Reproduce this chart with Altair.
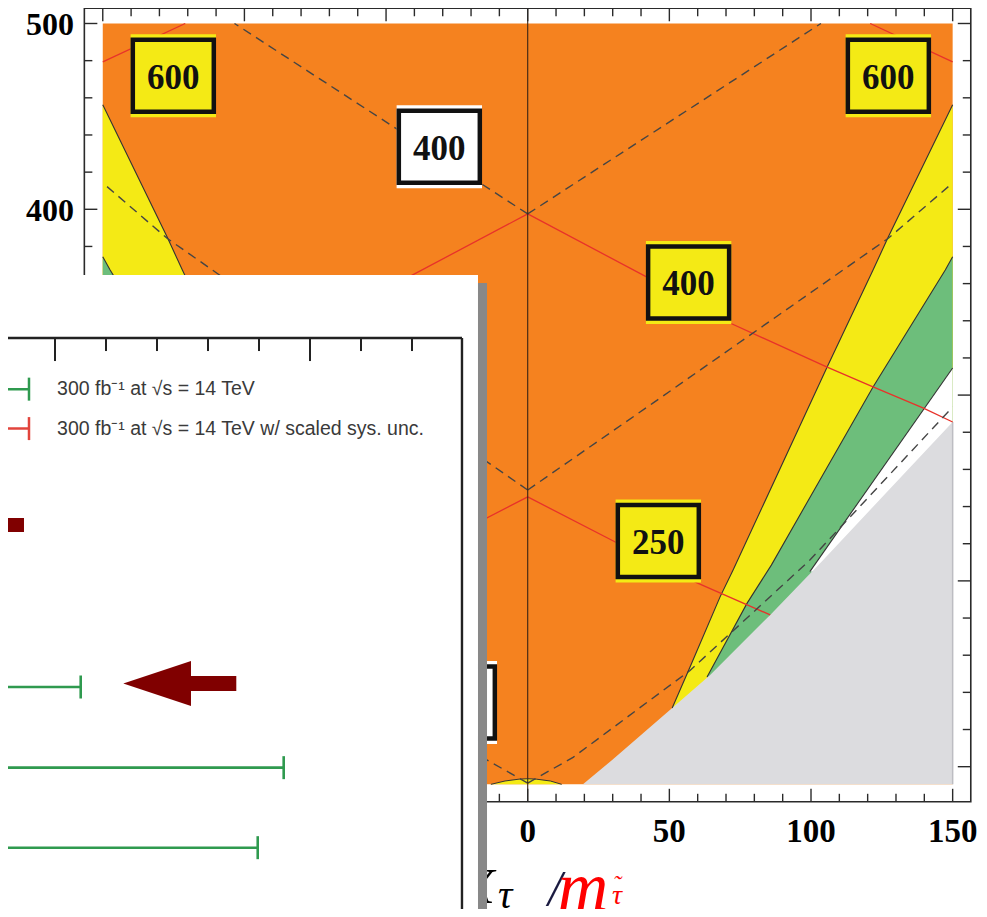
import altair as alt
import pandas as pd

# ---------------- colours ----------------
ORANGE = "#F5821F"
YELLOW = "#F4EA15"
GREEN = "#6DBE7B"
GRAY = "#DCDCDF"
LINE = "#333333"
RED = "#E8322A"
DASH = "#454545"

# ---------------- main panel (data units) ----------------
X_DOM = [-183.45, 159.3]
Y_DOM = [23.4, 508.34]
FILL_X = 150
FILL_Y = [90.5, 500]
FRAME_X = [-156.5, 156.4]
FRAME_Y = [81.1, 508.2]

# region boundaries (right half; the figure is mirror-symmetric in x)
oy_x = [51.0, 57.3, 67.9, 72.5, 105.7, 121.9, 127.1, 150.0]
oy_y = [131.6, 153.7, 191.4, 205.9, 315.1, 367.3, 384.5, 456.3]
yg_x = [63.3, 77.4, 86.0, 121.9, 147.4, 150.0]
yg_y = [148.3, 187.9, 208.5, 304.4, 367.3, 374.5]
gw_x = [99.6, 150.0]
gw_y = [205.0, 314.6]
gray_x = [19.5, 29.8, 51.0, 64.4, 85.6, 104.3, 150.0]
gray_y = [90.5, 103.6, 131.6, 149.4, 181.7, 211.3, 285.5]

dome_x = [-13, -8, -3, 0, 3, 8, 12]
dome_y = [90.5, 92.3, 93.3, 93.5, 93.3, 92.3, 90.5]

red_a_x = [0, 42.1, 71.4, 105.7, 121.9, 139.5, 150]
red_a_y = [397.5, 363.5, 338.8, 315.1, 304.4, 293.1, 285.5]
red_b_x = [120.9, 150]
red_b_y = [500, 479.3]
red_c_x = [0, 31.6, 59.8, 85.6]
red_c_y = [245.2, 220.4, 198.9, 181.7]

dash_1_x = [0, 103.5]
dash_1_y = [397.5, 500]
dash_2_x = [0, 44.3, 127.3, 150]
dash_2_y = [248.9, 295.8, 384.4, 414.2]
dash_3_x = [0, 16.0, 57.3, 99.6, 150]
dash_3_y = [91.2, 105.0, 151.8, 211.2, 293.6]

box_text = ["600", "400", "600", "400", "250", ""]
box_cx = [-125.1, -31.2, 127.3, 56.8, 46.1, -25.9]
box_cy = [471.9, 433.7, 471.9, 360.6, 221.5, 134.6]
box_fill = [YELLOW, "#FFFFFF", YELLOW, YELLOW, YELLOW, "#FFFFFF"]

x_ticks = list(range(-150, 151, 10))
y_ticks = list(range(100, 501, 20))
x_labels = [0, 50, 100, 150]
y_labels = [400, 500]

title_text = ["X", "τ", "/", "m", "τ", "˜"]
title_x = [-17.0, -8.0, 9.6, 19.5, 31.5, 31.5]
title_y = [34.5, 30.5, 33.6, 34.0, 30.2, 36.5]
title_color = ["#000000", "#000000", "#1a1a40", "#FF0000", "#FF0000", "#FF0000"]
title_size = [50, 40, 50, 70, 28, 24]

# ---------------- overlay panel (its own units) ----------------
U_DOM = [-0.09216, 1.81176]
V_DOM = [-7.4348, 3.7578]
ov_bg_u = [-0.3, 0.8294]
ov_bg_v = [-4.118, 4.2]
ov_sh_u = [0.8294, 0.8471]
ov_sh_v = [-4.019, 4.2]
ov_frame_u = 0.798
ov_frame_v = -3.335
ov_ticks = [-0.1, 0.0, 0.1, 0.2, 0.3, 0.4, 0.5, 0.6, 0.7]
ov_major = [0.0, 0.5]

GREEN_BAR = "#2F9A4F"
RED_BAR = "#E2443C"
DARKRED = "#800000"
leg_v = [-2.70, -2.21]
leg_col = [GREEN_BAR, RED_BAR]
leg_text = ["300 fb⁻¹ at √s = 14 TeV", "300 fb⁻¹ at √s = 14 TeV w/ scaled sys. unc."]
leg_cap_u = -0.051
leg_text_u = 0.004

bar_v = [1.0, 2.002, 2.996]
bar_hi = [0.0504, 0.4484, 0.3975]
bar_lo = [-0.5, -0.5, -0.5]

block_u = [-0.3, -0.0608]
block_v = [-1.099, -0.925]
arrow_u = [0.2447]
arrow_v = [0.9565]
ARROW = "M-1,0L0.198,-0.398L0.198,-0.133L1,-0.133L1,0.133L0.198,0.133L0.198,0.398Z"

W, H = 971, 901
KX = W / (X_DOM[1] - X_DOM[0])
KY = H / (Y_DOM[1] - Y_DOM[0])
KV = H / (V_DOM[1] - V_DOM[0])

xs = alt.Scale(domain=X_DOM, nice=False, zero=False)
ys = alt.Scale(domain=Y_DOM, nice=False, zero=False)
us = alt.Scale(domain=U_DOM, nice=False, zero=False)
vs = alt.Scale(domain=V_DOM, nice=False, zero=False, reverse=True)


def ex(f):
    return alt.X(f"{f}:Q", scale=xs, axis=None)


def ey(f):
    return alt.Y(f"{f}:Q", scale=ys, axis=None)


def eu(f):
    return alt.X(f"{f}:Q", scale=us, axis=None)


def ev(f):
    return alt.Y(f"{f}:Q", scale=vs, axis=None)


def band_df(bx, by, tag):
    rows = []
    for side in (1, -1):
        for i, (x, y) in enumerate(zip(bx, by)):
            rows.append(dict(id=f"{tag}{side}", i=i, x=side * x, x2=side * FILL_X, y=y))
    return pd.DataFrame(rows)


def mirror_lines(pairs, tag):
    rows = []
    for k, (lx, ly) in enumerate(pairs):
        for side in (1, -1):
            for i, (x, y) in enumerate(zip(lx, ly)):
                rows.append(dict(id=f"{tag}{k}_{side}", i=i, x=side * x, y=y))
    return pd.DataFrame(rows)


def area(df, color):
    return alt.Chart(df).mark_area(orient="horizontal", color=color, clip=True).encode(
        y=ey("y"), x=ex("x"), x2=alt.X2("x2"), detail="id:N"
    )


def lines(df, color, width, dash=None):
    kw = dict(color=color, strokeWidth=width, clip=True)
    if dash:
        kw["strokeDash"] = dash
    return alt.Chart(df).mark_line(**kw).encode(
        x=ex("x"), y=ey("y"), detail="id:N", order="i:Q"
    )


main = []
main.append(alt.Chart(pd.DataFrame({"x": [-FILL_X], "x2": [FILL_X], "y": [FILL_Y[0]], "y2": [FILL_Y[1]]}))
            .mark_rect(color=ORANGE).encode(x=ex("x"), x2="x2", y=ey("y"), y2="y2"))
main.append(area(band_df(oy_x, oy_y, "oy"), YELLOW))
main.append(area(band_df(yg_x, yg_y, "yg"), GREEN))
main.append(area(band_df(gw_x, gw_y, "gw"), "#FFFFFF"))
main.append(area(band_df(gray_x, gray_y, "gr"), GRAY))
dome = pd.DataFrame({"x": dome_x, "y": dome_y, "y2": FILL_Y[0], "i": range(len(dome_x)), "id": "d"})
main.append(alt.Chart(dome).mark_area(color=YELLOW).encode(x=ex("x"), y=ey("y"), y2="y2"))
main.append(lines(dome, LINE, 1))
main.append(lines(mirror_lines([(oy_x, oy_y), (yg_x, yg_y), (gw_x, gw_y)], "c"), LINE, 1.1))
edge = pd.DataFrame({"x": [FILL_X, FILL_X], "y": [FILL_Y[0], gray_y[-1]], "i": [0, 1], "id": "e"})
main.append(lines(edge, "#BDBDC2", 1.5))
main.append(lines(mirror_lines([(red_a_x, red_a_y), (red_b_x, red_b_y), (red_c_x, red_c_y)], "r"), RED, 1.3))
main.append(lines(mirror_lines([(dash_1_x, dash_1_y), (dash_2_x, dash_2_y), (dash_3_x, dash_3_y)], "k"),
                  DASH, 1.4, [9, 6]))
vline = pd.DataFrame({"x": [0, 0], "y": FRAME_Y, "i": [0, 1], "id": "v"})
main.append(lines(vline, "#3a2415", 1.1))

boxes = pd.DataFrame({"t": box_text, "cx": box_cx, "cy": box_cy, "f": box_fill})
hw_box, hh_box = 40.5 / KX, 36 / KY
hw_strip, hh_strip = 42.7 / KX, 41.5 / KY
boxes["sx"] = boxes.cx - hw_strip
boxes["sx2"] = boxes.cx + hw_strip
boxes["sy"] = boxes.cy - hh_strip
boxes["sy2"] = boxes.cy + hh_strip
boxes["bx"] = boxes.cx - hw_box
boxes["bx2"] = boxes.cx + hw_box
boxes["by"] = boxes.cy - hh_box
boxes["by2"] = boxes.cy + hh_box
main.append(alt.Chart(boxes).mark_rect().encode(
    x=ex("sx"), x2="sx2", y=ey("sy"), y2="sy2", color=alt.Color("f:N", scale=None)))
main.append(alt.Chart(boxes).mark_rect(stroke="#111111", strokeWidth=4.5).encode(
    x=ex("bx"), x2="bx2", y=ey("by"), y2="by2", color=alt.Color("f:N", scale=None)))
main.append(alt.Chart(boxes[boxes.t != ""]).mark_text(font="Liberation Serif", fontWeight="bold", fontSize=35,
                                                      color="#111111", baseline="middle", dy=2).encode(
    x=ex("cx"), y=ey("cy"), text="t:N"))

# frame and ticks
frame = pd.DataFrame({"x": [FRAME_X[0]], "x2": [FRAME_X[1]], "y": [FRAME_Y[0]], "y2": [FRAME_Y[1]]})
main.append(alt.Chart(frame).mark_rect(fillOpacity=0, stroke="#2a2a2a", strokeWidth=1.6).encode(
    x=ex("x"), x2="x2", y=ey("y"), y2="y2"))
tx = pd.DataFrame({"x": x_ticks})
tx["L"] = [(13 if v % 50 == 0 else 8) / KY for v in x_ticks]
tx["b"] = FRAME_Y[0]
tx["b2"] = FRAME_Y[0] + tx.L
tx["t"] = FRAME_Y[1]
tx["t2"] = FRAME_Y[1] - tx.L
main.append(alt.Chart(tx).mark_rule(color="#2a2a2a", strokeWidth=1.4).encode(x=ex("x"), y=ey("b"), y2="b2"))
main.append(alt.Chart(tx).mark_rule(color="#2a2a2a", strokeWidth=1.4).encode(x=ex("x"), y=ey("t"), y2="t2"))
ty = pd.DataFrame({"y": y_ticks})
ty["L"] = [(13 if v % 100 == 0 else 8) / KX for v in y_ticks]
ty["l"] = FRAME_X[0]
ty["l2"] = FRAME_X[0] + ty.L
ty["r"] = FRAME_X[1]
ty["r2"] = FRAME_X[1] - ty.L
main.append(alt.Chart(ty).mark_rule(color="#2a2a2a", strokeWidth=1.4).encode(y=ey("y"), x=ex("l"), x2="l2"))
main.append(alt.Chart(ty).mark_rule(color="#2a2a2a", strokeWidth=1.4).encode(y=ey("y"), x=ex("r"), x2="r2"))

xl = pd.DataFrame({"v": x_labels, "y": FRAME_Y[0] - 16.5})
main.append(alt.Chart(xl).mark_text(font="Liberation Serif", fontWeight="bold", fontSize=33,
                                    baseline="middle", color="#000000").encode(
    x=ex("v"), y=ey("y"), text="v:Q"))
yl = pd.DataFrame({"v": y_labels, "x": FRAME_X[0] - 10.3 / KX})
main.append(alt.Chart(yl).mark_text(font="Liberation Serif", fontWeight="bold", fontSize=32,
                                    baseline="middle", align="right", color="#000000", dy=2).encode(
    x=ex("x"), y=ey("v"), text="v:Q"))

title = pd.DataFrame({"t": title_text, "x": title_x, "y": title_y, "c": title_color, "s": title_size})
main.append(alt.Chart(title).mark_text(font="Liberation Serif", fontStyle="italic",
                                       baseline="middle").encode(
    x=ex("x"), y=ey("y"), text="t:N", color=alt.Color("c:N", scale=None), size=alt.Size("s:Q", scale=None)))

main_chart = alt.layer(*main)

# ---------------- overlay ----------------
ov = []
ov.append(alt.Chart(pd.DataFrame({"u": [ov_bg_u[0]], "u2": [ov_bg_u[1]], "v": [ov_bg_v[0]], "v2": [ov_bg_v[1]]}))
          .mark_rect(color="#FFFFFF", clip=True).encode(x=eu("u"), x2="u2", y=ev("v"), y2="v2"))
ov.append(alt.Chart(pd.DataFrame({"u": [ov_sh_u[0]], "u2": [ov_sh_u[1]], "v": [ov_sh_v[0]], "v2": [ov_sh_v[1]]}))
          .mark_rect(color="#888888", clip=True).encode(x=eu("u"), x2="u2", y=ev("v"), y2="v2"))
ov.append(alt.Chart(pd.DataFrame({"u": [ov_bg_u[0]], "u2": [ov_frame_u], "v": [ov_frame_v]}))
          .mark_rule(color="#222222", strokeWidth=2.4, clip=True).encode(x=eu("u"), x2="u2", y=ev("v")))
ov.append(alt.Chart(pd.DataFrame({"u": [ov_frame_u], "v": [ov_frame_v], "v2": [ov_bg_v[1]]}))
          .mark_rule(color="#222222", strokeWidth=2.4, clip=True).encode(x=eu("u"), y=ev("v"), y2="v2"))
otk = pd.DataFrame({"u": ov_ticks})
otk["v"] = ov_frame_v
otk["v2"] = [ov_frame_v + (23 if t in ov_major else 13) / KV for t in ov_ticks]
ov.append(alt.Chart(otk).mark_rule(color="#222222", strokeWidth=2, clip=True).encode(
    x=eu("u"), y=ev("v"), y2="v2"))

leg = pd.DataFrame({"v": leg_v, "c": leg_col, "t": leg_text})
leg["lo"] = ov_bg_u[0]
leg["cap"] = leg_cap_u
leg["tu"] = leg_text_u
leg["c1"] = leg.v - 11.5 / KV
leg["c2"] = leg.v + 11.5 / KV
ov.append(alt.Chart(leg).mark_rule(strokeWidth=2.5, clip=True).encode(
    x=eu("lo"), x2="cap", y=ev("v"), color=alt.Color("c:N", scale=None)))
ov.append(alt.Chart(leg).mark_rule(strokeWidth=2.5, clip=True).encode(
    x=eu("cap"), y=ev("c1"), y2="c2", color=alt.Color("c:N", scale=None)))
ov.append(alt.Chart(leg).mark_text(font="Liberation Sans", fontSize=19.5, align="left", baseline="middle",
                                   color="#3a3a3a").encode(x=eu("tu"), y=ev("v"), text="t:N"))

ov.append(alt.Chart(pd.DataFrame({"u": [block_u[0]], "u2": [block_u[1]], "v": [block_v[0]], "v2": [block_v[1]]}))
          .mark_rect(color=DARKRED, clip=True).encode(x=eu("u"), x2="u2", y=ev("v"), y2="v2"))

bars = pd.DataFrame({"v": bar_v, "lo": bar_lo, "hi": bar_hi})
bars["c1"] = bars.v - 11.5 / KV
bars["c2"] = bars.v + 11.5 / KV
ov.append(alt.Chart(bars).mark_rule(color=GREEN_BAR, strokeWidth=2.6, clip=True).encode(
    x=eu("lo"), x2="hi", y=ev("v")))
ov.append(alt.Chart(bars).mark_rule(color=GREEN_BAR, strokeWidth=2.6, clip=True).encode(
    x=eu("hi"), y=ev("c1"), y2="c2"))
ov.append(alt.Chart(pd.DataFrame({"u": arrow_u, "v": arrow_v})).mark_point(
    shape=ARROW, size=113 * 113, filled=True, color=DARKRED, opacity=1, strokeWidth=0).encode(
    x=eu("u"), y=ev("v")))

overlay_chart = alt.layer(*ov)

chart = alt.layer(main_chart, overlay_chart).resolve_scale(
    x="independent", y="independent"
).properties(
    width=W, height=H, padding=0, autosize=alt.AutoSizeParams(type="none")
).configure_view(strokeWidth=0)

chart.save("out.html", embed_options={"renderer": "svg", "actions": False})
